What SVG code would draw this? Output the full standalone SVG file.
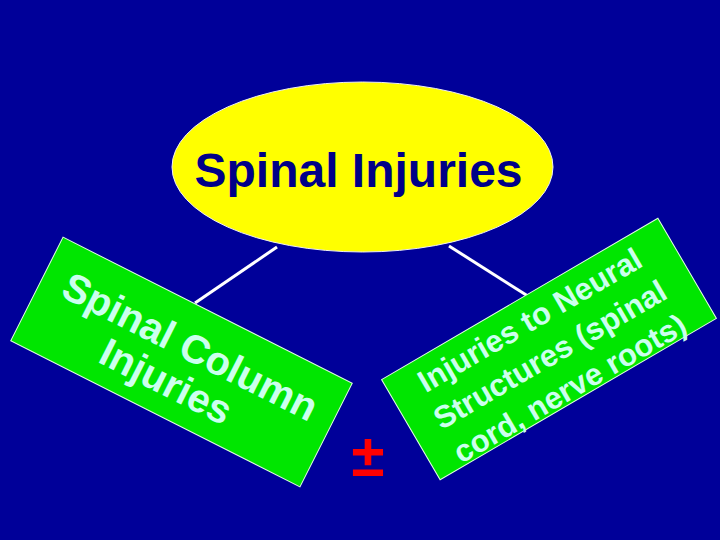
<svg xmlns="http://www.w3.org/2000/svg" width="720" height="540" viewBox="0 0 720 540">
<style>
.box{fill:#00e600;stroke:#e0ffe0;stroke-width:1}
.bt{font-family:"Liberation Sans",Arial,sans-serif;font-weight:bold;fill:#ccffee;text-anchor:middle}
.conn{stroke:#ffffff;stroke-width:3;fill:none}
</style>
<rect width="720" height="540" fill="#000099"/>
<g id="connectors">
<line class="conn" x1="277" y1="247" x2="195" y2="303"/>
<line class="conn" x1="449" y1="246" x2="531" y2="298"/>
</g>
<g id="top">
<ellipse cx="362.5" cy="167" rx="190.5" ry="85" fill="#ffff00" stroke="#f0f0f0" stroke-width="1"/>
<text x="358.5" y="187" font-family="'Liberation Sans',Arial,sans-serif" font-weight="bold" font-size="48" fill="#000088" text-anchor="middle">Spinal Injuries</text>
</g>
<g id="left" transform="translate(181.5,362) rotate(26.8)">
<rect class="box" x="-162" y="-58" width="324" height="116"/>
<text class="bt" font-size="40"><tspan x="1" y="-4">Spinal Column</tspan><tspan x="-5" y="38">Injuries</tspan></text>
</g>
<g id="right" transform="translate(549,349) rotate(-30.3)">
<rect class="box" x="-160" y="-58" width="320" height="116"/>
<text class="bt" font-size="31"><tspan x="-2" y="-24">Injuries to Neural</tspan><tspan x="-2" y="16">Structures (spinal</tspan><tspan x="-2" y="55">cord, nerve roots)</tspan></text>
</g>
<g id="pm">
<text x="368" y="476" font-family="'Liberation Sans',Arial,sans-serif" font-weight="bold" font-size="60" fill="#ff0000" text-anchor="middle">±</text>
</g>
</svg>
